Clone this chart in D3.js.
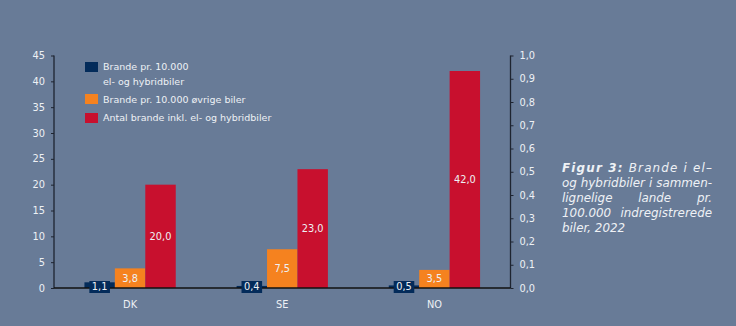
<!DOCTYPE html>
<html>
<head>
<meta charset="utf-8">
<script src="https://cdn.jsdelivr.net/npm/d3@7"></script>
<style>
html,body{margin:0;padding:0;background:#687b97;}
svg{display:block;}
text{font-family:"DejaVu Sans",Verdana,sans-serif;}
</style>
</head>
<body>
<svg id="chart" width="736" height="326"></svg>
<script>
const categories = ["DK", "SE", "NO"];
const seriesNames = ["Brande pr. 10.000\nel- og hybridbiler", "Brande pr. 10.000 øvrige biler", "Antal brande inkl. el- og hybridbiler"];
const elHybrid = [1.1, 0.4, 0.5];
const ovrige = [3.8, 7.5, 3.5];
const antal = [20.0, 23.0, 42.0];
const leftTicks = [0, 5, 10, 15, 20, 25, 30, 35, 40, 45];
const rightTicks = [0, 0.1, 0.2, 0.3, 0.4, 0.5, 0.6, 0.7, 0.8, 0.9, 1.0];
const colors = ["#032b5a", "#f5821f", "#c8102e"];
const captionLines = [
  [{t:"Figur 3:", b:true}, {t:" Brande i el–"}],
  [{t:"og hybridbiler i sammen-"}],
  [{t:"lignelige lande pr."}],
  [{t:"100.000 indregistrerede"}],
  [{t:"biler, 2022"}]
];

const svg = d3.select("#chart");
const textCol = "#eef1f5";
const fmt = v => d3.format(".1f")(v).replace(".", ",");

const xL = 54, xR = 510.5, y0 = 288, yT = 55.5;
const x0 = d3.scaleBand().domain(categories).range([xL, xR]).paddingInner(0.4).paddingOuter(0.2);
const series = [elHybrid, ovrige, antal];
const x1 = d3.scaleBand().domain([0,1,2]).range([0, x0.bandwidth()]);
const y = d3.scaleLinear().domain([0, 45]).range([y0, yT]);
const yR = d3.scaleLinear().domain([0, 1]).range([y0, yT]);

// bars
series.forEach((vals, si) => {
  svg.append("g").selectAll("rect").data(vals).join("rect")
    .attr("x", (d,i) => x0(categories[i]) + x1(si))
    .attr("width", x1.bandwidth())
    .attr("y", d => y(d))
    .attr("height", d => y0 - y(d))
    .attr("fill", colors[si]);
});

// axes
const axL = svg.append("g").attr("transform", `translate(${xL},0)`)
  .call(d3.axisLeft(y).tickValues(leftTicks).tickSize(3).tickPadding(6).tickFormat(d3.format("d")));
const axR = svg.append("g").attr("transform", `translate(${xR},0)`)
  .call(d3.axisRight(yR).tickValues(rightTicks).tickSize(3).tickPadding(6).tickFormat(fmt));
[axL, axR].forEach(a => {
  a.select(".domain").attr("stroke", "#1e2430").attr("stroke-width", 1.3).attr("d", `M0,${yT}V${y0}`);
  a.selectAll(".tick line").attr("stroke", "#1e2430");
  a.selectAll(".tick text").attr("fill", textCol).attr("font-size", "9.8px").attr("font-family", "DejaVu Sans, Verdana, sans-serif");
});
// baseline
svg.append("line").attr("x1", xL).attr("x2", xR).attr("y1", y0).attr("y2", y0)
  .attr("stroke", "#111").attr("stroke-width", 1.3);

// x labels
svg.append("g").selectAll("text").data(categories).join("text")
  .attr("x", d => x0(d) + x0.bandwidth()/2).attr("y", 308)
  .attr("text-anchor", "middle").attr("font-size", "9.8px").attr("fill", textCol).text(d => d);

// value labels orange & red
[1,2].forEach(si => {
  svg.append("g").selectAll("text").data(series[si]).join("text")
    .attr("x", (d,i) => x0(categories[i]) + x1(si) + x1.bandwidth()/2)
    .attr("y", d => (y(d) + y0)/2 + 3.5)
    .attr("text-anchor", "middle").attr("font-size", "9.8px").attr("fill", textCol).text(d => fmt(d));
});
// dark labels with boxes
const gD = svg.append("g");
elHybrid.forEach((d, i) => {
  const cx = x0(categories[i]) + x1(0) + x1.bandwidth()/2;
  const t = gD.append("text").attr("x", cx).attr("y", 290).attr("text-anchor", "middle")
    .attr("font-size", "9.8px").attr("fill", textCol).text(fmt(d));
  const w = t.node().getComputedTextLength();
  gD.insert("rect", "text").attr("x", cx - w/2 - 2.5).attr("y", 281).attr("width", w + 5).attr("height", 12)
    .attr("fill", colors[0]);
});

// legend
const leg = svg.append("g");
const legY = [62, 94, 113], legBase = [70, 103, 121];
seriesNames.forEach((n, i) => {
  leg.append("rect").attr("x", 85).attr("y", legY[i]).attr("width", 13).attr("height", 10).attr("fill", colors[i]);
  n.split("\n").forEach((ln, j) => {
    leg.append("text").attr("x", 103).attr("y", legBase[i] + j*15).attr("font-size", "9.5px")
      .attr("fill", textCol).text(ln);
  });
});

// caption (justified)
const capX = 562, capW = 150, capBase = 171.5, capLH = 15;
const cap = svg.append("g").attr("font-size", "11.9px").attr("font-style", "italic").attr("fill", textCol);
captionLines.forEach((segs, li) => {
  const yy = capBase + li * capLH;
  const last = li === captionLines.length - 1;
  if (li === 0) {
    const t = cap.append("text").attr("x", capX).attr("y", yy);
    segs.forEach(s => t.append("tspan").attr("font-weight", s.b ? "bold" : null).text(s.t));
    t.attr("textLength", capW).attr("lengthAdjust", "spacing");
    return;
  }
  const words = segs[0].t.split(" ");
  if (last) {
    cap.append("text").attr("x", capX).attr("y", yy).text(segs[0].t);
    return;
  }
  const nodes = words.map(w => cap.append("text").attr("y", yy).text(w));
  const widths = nodes.map(n => n.node().getComputedTextLength());
  const gap = (capW - d3.sum(widths)) / (words.length - 1);
  let cx = capX;
  nodes.forEach((n, k) => { n.attr("x", cx); cx += widths[k] + gap; });
});
</script>
</body>
</html>
